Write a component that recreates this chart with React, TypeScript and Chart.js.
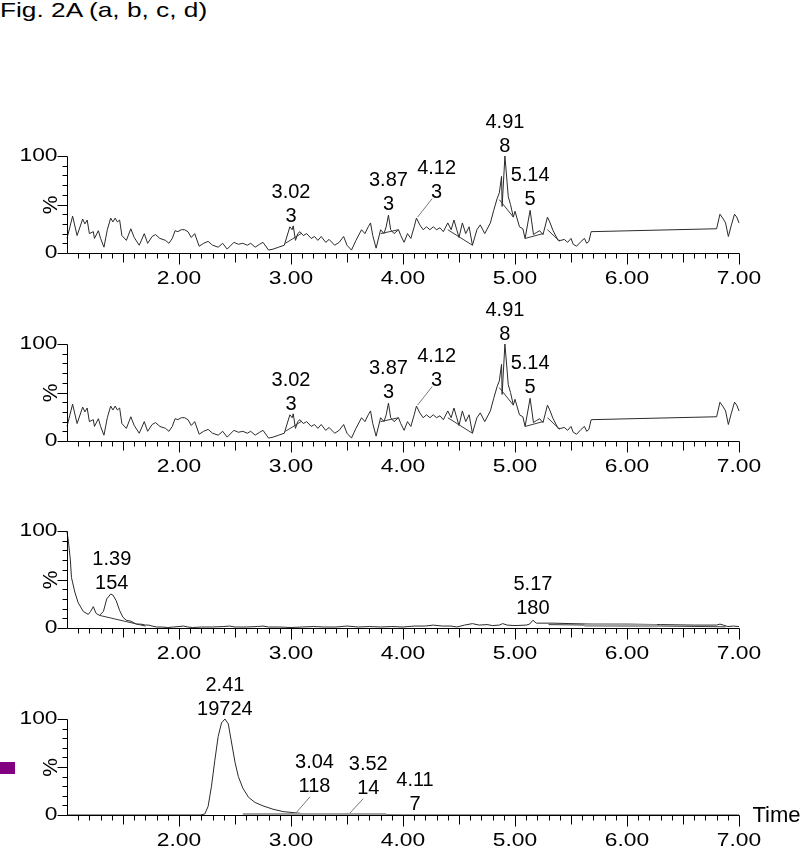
import React, { useEffect, useRef } from "react";
import { Chart, registerables } from "chart.js";

Chart.register(...registerables);

type Pt = [number, number];
type PeakLabel = { t: number; v: number; text: string[] };

// ---------- text ----------
const figureTitle = "Fig. 2A (a, b, c, d)";
const xAxisTitle = "Time";
const yAxisTitle = "%";
const xTickValues = [2, 3, 4, 5, 6, 7];
const xTickLabels = ["2.00", "3.00", "4.00", "5.00", "6.00", "7.00"];
const yTickValues = [0, 100];
const yTickLabels = ["0", "100"];
const xMin = 1;
const xMax = 7;

// ---------- data: chromatograms a and b (identical) ----------
const traceAB: Pt[] = [
  [1.0, 15], [1.05, 38], [1.09, 18], [1.14, 35], [1.16, 30], [1.18, 34], [1.2, 20], [1.235, 22],
  [1.245, 15], [1.28, 23], [1.3, 15], [1.33, 6], [1.36, 24], [1.39, 36], [1.41, 32], [1.43, 36],
  [1.45, 32], [1.47, 34], [1.49, 18], [1.53, 13], [1.57, 25], [1.6, 16], [1.645, 8], [1.69, 20],
  [1.72, 10], [1.76, 17], [1.79, 19], [1.83, 15], [1.88, 13], [1.91, 10], [1.94, 15], [1.965, 23],
  [1.99, 22], [2.02, 24], [2.05, 24], [2.08, 22], [2.11, 16], [2.14, 20], [2.18, 7], [2.22, 10],
  [2.26, 12], [2.3, 8], [2.35, 6], [2.39, 10], [2.43, 4], [2.49, 11], [2.53, 9], [2.57, 10],
  [2.61, 8], [2.64, 10], [2.68, 6], [2.72, 9], [2.75, 11], [2.8, 3], [2.84, 4], [2.89, 6],
  [2.94, 8], [2.99, 27], [3.01, 24], [3.02, 28], [3.04, 13], [3.06, 20], [3.08, 22], [3.11, 18],
  [3.14, 20], [3.18, 15], [3.21, 17], [3.24, 13], [3.27, 17], [3.31, 11], [3.34, 14], [3.39, 8],
  [3.43, 11], [3.47, 17], [3.5, 8], [3.54, 3], [3.58, 13], [3.63, 24], [3.66, 20], [3.69, 27],
  [3.71, 31], [3.73, 18], [3.76, 5], [3.8, 24], [3.83, 20], [3.85, 27], [3.87, 39], [3.89, 24],
  [3.92, 20], [3.96, 24], [3.98, 18], [4.01, 11], [4.04, 20], [4.07, 15], [4.1, 27], [4.12, 36],
  [4.15, 29], [4.18, 24], [4.21, 27], [4.24, 24], [4.27, 27], [4.3, 24], [4.33, 26], [4.36, 22],
  [4.4, 31], [4.43, 24], [4.455, 34], [4.48, 24], [4.5, 16], [4.53, 31], [4.56, 20], [4.59, 27],
  [4.62, 8], [4.66, 24], [4.69, 29], [4.73, 20], [4.78, 31], [4.81, 44], [4.84, 56], [4.86, 62],
  [4.88, 79], [4.885, 48], [4.91, 100], [4.94, 58], [4.96, 50], [4.985, 37], [5.0, 43], [5.04, 27],
  [5.07, 25], [5.09, 15], [5.135, 44], [5.165, 19], [5.19, 21], [5.22, 23], [5.25, 19], [5.29, 37],
  [5.31, 32], [5.34, 23], [5.385, 13], [5.41, 13], [5.44, 14], [5.47, 11], [5.5, 15], [5.52, 9],
  [5.55, 7], [5.59, 12], [5.62, 15], [5.64, 10], [5.66, 12], [5.68, 22], [6.8, 25], [6.83, 40],
  [6.86, 35], [6.88, 31], [6.905, 17], [6.93, 28], [6.96, 40], [6.98, 37], [7.0, 31],
];
const baselinesAB: Pt[][] = [
  [[2.95, 10], [3.09, 20]],
  [[3.8, 20], [3.96, 24]],
  [[4.4, 24], [4.62, 8]],
  [[4.86, 55], [4.985, 37]],
  [[5.09, 15], [5.25, 20]],
  [[5.29, 24], [5.4, 12]],
];
const leadersAB: Pt[][] = [[[4.26, 56], [4.13, 37]]];
const peaksAB: PeakLabel[] = [
  { t: 3.0, v: 32, text: ["3.02", "3"] },
  { t: 3.87, v: 44, text: ["3.87", "3"] },
  { t: 4.3, v: 57, text: ["4.12", "3"] },
  { t: 4.91, v: 104, text: ["4.91", "8"] },
  { t: 5.135, v: 49.5, text: ["5.14", "5"] },
];

// ---------- data: chromatogram c ----------
const traceC: Pt[] = [
  [1.0, 99], [1.01, 92], [1.03, 70], [1.04, 52], [1.07, 37], [1.1, 26], [1.146, 17], [1.19, 14],
  [1.21, 17], [1.235, 22], [1.26, 15], [1.29, 13], [1.325, 17], [1.355, 30], [1.39, 35], [1.41, 34],
  [1.44, 28], [1.47, 18], [1.5, 11], [1.53, 8], [1.57, 7], [1.62, 4], [1.66, 4], [1.7, 3],
  [1.73, 3], [1.76, 2], [1.8, 1], [1.85, 1], [1.9, 0.5], [1.95, 1], [2.0, 1.5], [2.04, 2],
  [2.08, 1], [2.12, 0.5], [2.2, 1], [2.3, 1], [2.4, 1.5], [2.45, 2], [2.5, 1], [2.6, 1],
  [2.7, 1.5], [2.75, 2], [2.8, 1], [2.9, 1], [3.0, 0.5], [3.1, 1], [3.2, 1.5], [3.3, 1],
  [3.4, 1], [3.5, 2], [3.6, 1], [3.7, 1.5], [3.8, 1], [3.9, 1.5], [4.0, 1], [4.1, 2],
  [4.2, 2], [4.27, 3], [4.35, 2], [4.43, 2], [4.48, 1], [4.55, 3], [4.62, 4.5], [4.68, 3],
  [4.75, 3.5], [4.8, 2.5], [4.86, 3], [4.89, 4.5], [4.93, 3], [5.0, 2.5], [5.1, 3], [5.13, 4],
  [5.16, 8], [5.19, 5], [5.25, 5], [5.34, 5], [5.5, 4.5], [5.7, 4], [6.0, 4], [6.3, 3.5],
  [6.6, 3], [6.8, 3], [6.83, 4], [6.86, 3], [6.9, 1.5], [6.95, 2], [7.0, 1.5],
];
const baselinesC: Pt[][] = [
  [[1.29, 13], [1.7, 2]],
  [[5.3, 3.5], [6.88, 1.2]],
];
const shadeC: Pt[][] = [[[5.62, 2.8], [6.27, 2.2]]];
const peaksC: PeakLabel[] = [
  { t: 1.4, v: 40, text: ["1.39", "154"] },
  { t: 5.16, v: 14.5, text: ["5.17", "180"] },
];

// ---------- data: chromatogram d ----------
const traceD: Pt[] = [
  [1.0, 0], [2.0, 0], [2.19, 0], [2.23, 1], [2.26, 9], [2.29, 30], [2.32, 57], [2.35, 82],
  [2.38, 96], [2.41, 100], [2.44, 95], [2.47, 75], [2.5, 55], [2.53, 40], [2.57, 28], [2.62, 18.5],
  [2.68, 13], [2.75, 9.5], [2.84, 6], [2.93, 3.5], [3.02, 2.5], [3.14, 1], [3.25, 0.7], [3.5, 0.3],
  [3.7, 0.3], [3.8, 0.1], [4.0, 0], [7.0, 0],
];
const shadeD: Pt[][] = [[[2.57, 0.6], [3.85, 0.4]]];
const leadersD: Pt[][] = [
  [[3.17, 19], [3.04, 1.5]],
  [[3.645, 17], [3.51, 0]],
];
const peaksD: PeakLabel[] = [
  { t: 2.41, v: 104, text: ["2.41", "19724"] },
  { t: 3.21, v: 24, text: ["3.04", "118"] },
  { t: 3.69, v: 22, text: ["3.52", "14"] },
  { t: 4.107, v: 5, text: ["4.11", "7"] },
];

type PanelData = {
  trace: Pt[];
  baselines: Pt[][];
  leaders: Pt[][];
  shade: Pt[][];
  peaks: PeakLabel[];
  showTime: boolean;
};

const panels: PanelData[] = [
  { trace: traceAB, baselines: baselinesAB, leaders: leadersAB, shade: [], peaks: peaksAB, showTime: false },
  { trace: traceAB, baselines: baselinesAB, leaders: leadersAB, shade: [], peaks: peaksAB, showTime: false },
  { trace: traceC, baselines: baselinesC, leaders: [], shade: shadeC, peaks: peaksC, showTime: false },
  { trace: traceD, baselines: [], leaders: leadersD, shade: shadeD, peaks: peaksD, showTime: true },
];

// ---------- layout ----------
const PANEL_TOP = [156, 344, 531, 719];
const PANEL_H = [97, 97, 97, 96];
const PAD_TOP = 70;
const PAD_BOTTOM = 40;
const CANVAS_W = 800;
const PLOT_LEFT = 67;
const PLOT_RIGHT = 739;
const FONT = '"Liberation Sans", Arial, Helvetica, sans-serif';

function toXY(pts: Pt[]) {
  return pts.map(([x, y]) => ({ x, y }));
}

function stretchText(ctx: CanvasRenderingContext2D, text: string, x: number, y: number, sx: number, align: CanvasTextAlign) {
  ctx.save();
  ctx.translate(x, y);
  ctx.scale(sx, 1);
  ctx.textAlign = align;
  ctx.fillText(text, 0, 0);
  ctx.restore();
}

function makePlugin(p: PanelData) {
  return {
    id: "chromAxes",
    afterDatasetsDraw(chart: any) {
      const ctx: CanvasRenderingContext2D = chart.ctx;
      const xs = chart.scales.x;
      const ys = chart.scales.y;
      const x0 = Math.round(xs.getPixelForValue(xMin)) + 0.5;
      const x1 = Math.round(xs.getPixelForValue(xMax)) + 0.5;
      const yb = Math.round(ys.getPixelForValue(0)) + 0.5;
      const yt = Math.round(ys.getPixelForValue(100)) + 0.5;
      ctx.save();
      ctx.strokeStyle = "#000";
      ctx.lineWidth = 1;
      ctx.beginPath();
      ctx.moveTo(x0, yt);
      ctx.lineTo(x0, yb);
      ctx.lineTo(x1, yb);
      for (let k = 11; k <= 70; k++) {
        const px = Math.round(xs.getPixelForValue(k / 10)) + 0.5;
        const len = k % 10 === 0 ? 11 : k % 5 === 0 ? 9 : 5;
        ctx.moveTo(px, yb);
        ctx.lineTo(px, yb + len);
      }
      for (let v = 0; v <= 100; v += 10) {
        const py = Math.round(ys.getPixelForValue(v)) + 0.5;
        const len = v % 50 === 0 ? 10 : 5;
        ctx.moveTo(x0, py);
        ctx.lineTo(x0 - len, py);
      }
      ctx.stroke();

      ctx.fillStyle = "#000";
      ctx.textBaseline = "middle";
      ctx.font = `19px ${FONT}`;
      xTickValues.forEach((v, i) => {
        stretchText(ctx, xTickLabels[i], xs.getPixelForValue(v), yb + 25, 1.2, "center");
      });
      yTickValues.forEach((v, i) => {
        stretchText(ctx, yTickLabels[i], x0 - 10, ys.getPixelForValue(v), 1.2, "right");
      });
      ctx.save();
      ctx.translate(51, (yt + yb) / 2);
      ctx.rotate(-Math.PI / 2);
      ctx.font = `21px ${FONT}`;
      ctx.textAlign = "center";
      ctx.fillText(yAxisTitle, 0, 0);
      ctx.restore();

      if (p.showTime) {
        ctx.font = `22px ${FONT}`;
        ctx.textAlign = "left";
        ctx.fillText(xAxisTitle, x1 + 13, yb);
      }

      ctx.font = `20px ${FONT}`;
      ctx.textAlign = "center";
      ctx.textBaseline = "alphabetic";
      p.peaks.forEach((pk) => {
        const px = xs.getPixelForValue(pk.t);
        const py = ys.getPixelForValue(pk.v);
        const n = pk.text.length;
        pk.text.forEach((line, i) => {
          ctx.fillText(line, px, py - (n - 1 - i) * 24);
        });
      });
      ctx.restore();
    },
  };
}

function Panel({ idx }: { idx: number }) {
  const ref = useRef<HTMLCanvasElement | null>(null);
  const p = panels[idx];
  const h = PAD_TOP + PANEL_H[idx] + PAD_BOTTOM;
  useEffect(() => {
    if (!ref.current) return;
    const datasets: any[] = [];
    p.shade.forEach((s) =>
      datasets.push({ data: toXY(s), borderColor: "#a0a0a0", borderWidth: 3 })
    );
    p.baselines.forEach((s) =>
      datasets.push({ data: toXY(s), borderColor: "#3a3a3a", borderWidth: 1 })
    );
    p.leaders.forEach((s) =>
      datasets.push({ data: toXY(s), borderColor: "#7a7a7a", borderWidth: 1 })
    );
    datasets.push({ data: toXY(p.trace), borderColor: "#2a2a2a", borderWidth: 1 });
    datasets.forEach((d) => {
      d.showLine = true;
      d.pointRadius = 0;
      d.tension = 0;
      d.fill = false;
      d.clip = false;
    });
    const chart = new Chart(ref.current, {
      type: "scatter",
      data: { datasets },
      options: {
        animation: false,
        responsive: false,
        devicePixelRatio: 1,
        events: [],
        layout: {
          padding: {
            left: PLOT_LEFT,
            right: CANVAS_W - PLOT_RIGHT,
            top: PAD_TOP,
            bottom: PAD_BOTTOM,
          },
        },
        plugins: { legend: { display: false }, tooltip: { enabled: false } },
        scales: {
          x: { type: "linear", min: xMin, max: xMax, display: false },
          y: { type: "linear", min: 0, max: 100, display: false },
        },
      },
      plugins: [makePlugin(p)],
    } as any);
    return () => chart.destroy();
  }, [idx]);
  return (
    <canvas
      ref={ref}
      width={CANVAS_W}
      height={h}
      style={{
        position: "absolute",
        left: 0,
        top: PANEL_TOP[idx] - PAD_TOP,
        width: CANVAS_W,
        height: h,
      }}
    />
  );
}

export default function App() {
  return (
    <div
      style={{
        position: "fixed",
        left: 0,
        top: 0,
        width: 800,
        height: 847,
        background: "#fff",
        overflow: "hidden",
      }}
    >
      <div
        style={{
          position: "absolute",
          left: 0,
          top: -2,
          fontFamily: FONT,
          fontSize: 21,
          whiteSpace: "nowrap",
          transform: "scaleX(1.25)",
          transformOrigin: "left top",
          color: "#000",
        }}
      >
        {figureTitle}
      </div>
      <div
        style={{
          position: "absolute",
          left: 0,
          top: 762,
          width: 15,
          height: 12,
          background: "#800080",
        }}
      />
      {panels.map((_, i) => (
        <Panel key={i} idx={i} />
      ))}
    </div>
  );
}
